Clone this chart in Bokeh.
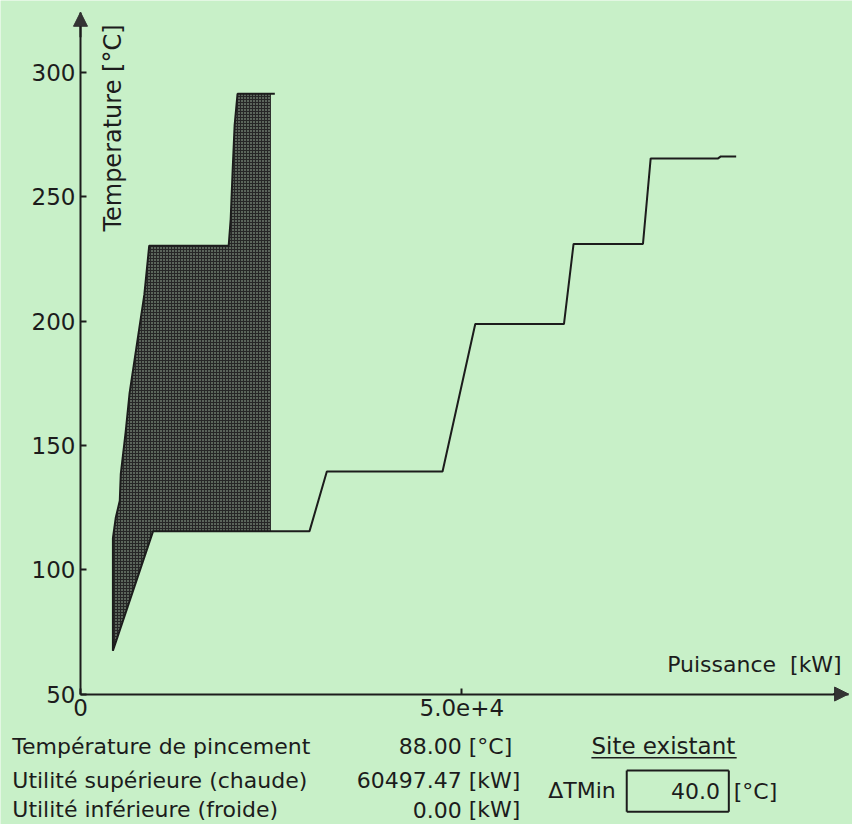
import math
from bokeh.plotting import figure
from bokeh.models import Range1d, FixedTicker, Label, Arrow, NormalHead
from bokeh.embed import file_html
from bokeh.resources import INLINE

# ---------------- data ----------------
# hot side boundary of the shaded zone (kW, degC)
hot_q = [4250, 4250, 4630, 5150, 5280, 5920, 6440, 8370, 9010, 19430, 19690, 19950, 20210, 20590, 25480]
hot_t = [67.4, 112.7, 121.0, 127.7, 138.4, 155.3, 171.1, 210.6, 230.3, 230.3, 240.9, 260.7, 278.8, 291.4, 291.4]
# staircase curve (kW, degC)
cold_q = [4250, 9520, 24970, 30030, 32300, 47470, 51760, 63390, 64650, 73750, 74760, 83600, 83960, 85970]
cold_t = [67.4, 115.5, 115.5, 115.5, 139.5, 139.5, 198.8, 198.8, 231.0, 231.0, 265.4, 265.4, 266.2, 266.2]
shade_right_q = 24970

y_ticks = [50, 100, 150, 200, 250, 300]
x_ticks = [0, 50000]
x_tick_labels = {0: "0", 50000: "5.0e+4"}

info_labels = ["Température de pincement", "Utilité supérieure (chaude)", "Utilité inférieure (froide)"]
info_values = ["88.00", "60497.47", "0.00"]
info_units = ["[°C]", "[kW]", "[kW]"]
site_title = "Site existant"
dtmin_label = "ΔTMin"
dtmin_value = "40.0"
dtmin_unit = "[°C]"

# ---------------- layout ----------------
W, H = 852, 824
REF_W, REF_H = 868, 840
SX, SY = W / REF_W, H / REF_H
AX_X, AX_Y = 81.5, 707.0          # reference pixel position of the axes origin
KW_PER_PX = 50000 / 388.5          # reference pixels
DEG_PER_PX = 50 / 126.75

BG = "#c8f0c8"
INK = "#1c1c1c"
FONT = "DejaVu Sans"
FS = "22px"

x0 = (0 - AX_X) * KW_PER_PX
x1 = (REF_W - AX_X) * KW_PER_PX
y0 = 50 - (REF_H - AX_Y) * DEG_PER_PX
y1 = 50 + AX_Y * DEG_PER_PX

p = figure(width=W, height=H, output_backend="svg", toolbar_location=None,
           x_range=Range1d(x0, x1), y_range=Range1d(y0, y1),
           min_border=0, min_border_left=0, min_border_right=0,
           min_border_top=0, min_border_bottom=0)
p.background_fill_color = BG
p.border_fill_color = BG
p.outline_line_color = None
p.grid.visible = False

y_tip = 50 + (AX_Y - 12) * DEG_PER_PX
x_tip = (864 - AX_X) * KW_PER_PX

p.xaxis.fixed_location = 50
p.yaxis.fixed_location = 0
p.xaxis.bounds = (0, x_tip)
p.yaxis.bounds = (50, y_tip)

for ax in (p.xaxis[0], p.yaxis[0]):
    ax.axis_line_width = 2
    ax.axis_line_color = INK
    ax.major_tick_in = 6
    ax.major_tick_out = 0
    ax.major_tick_line_color = INK
    ax.major_tick_line_width = 2
    ax.minor_tick_line_color = None
    ax.major_label_text_font = FONT
    ax.major_label_text_font_size = "23px"
    ax.major_label_text_color = INK
    ax.major_label_standoff = 5

p.yaxis.ticker = FixedTicker(ticks=y_ticks)
p.xaxis.ticker = FixedTicker(ticks=x_ticks)
p.xaxis.major_label_overrides = x_tick_labels

# shaded zone
patch_q = hot_q[:-1] + [shade_right_q]
patch_t = hot_t[:-1] + [hot_t[-1]]
for q, t in reversed(list(zip(cold_q, cold_t))):
    if q <= shade_right_q:
        patch_q.append(q)
        patch_t.append(t)
p.patch(patch_q, patch_t, fill_color="#262626", line_color=None,
        hatch_pattern="dot", hatch_color="#a9c2a9", hatch_scale=3, hatch_weight=1)

p.line(hot_q, hot_t, line_color=INK, line_width=2)
p.line(cold_q, cold_t, line_color=INK, line_width=2)

# axis arrow heads
p.add_layout(Arrow(end=NormalHead(size=14, fill_color="#333333", line_color="#333333"),
                   x_start=0, y_start=y_tip - 10, x_end=0, y_end=y_tip,
                   line_color=INK, line_width=2))
p.add_layout(Arrow(end=NormalHead(size=14, fill_color="#333333", line_color="#333333"),
                   x_start=x_tip - 2000, y_start=50, x_end=x_tip, y_end=50,
                   line_color=INK, line_width=2))


def S(rx, ry):
    """reference pixel position -> screen units relative to frame bottom-left"""
    return rx * SX, (REF_H - ry) * SY


def lab(text, rx, ry, align="left", angle=0.0, size=FS):
    sx, sy = S(rx, ry)
    p.add_layout(Label(x=sx, y=sy, x_units="screen", y_units="screen", text=text,
                       text_font=FONT, text_font_size=size, text_color=INK,
                       text_align=align, text_baseline="middle", angle=angle))


def seg(rx0, ry0, rx1, ry1, w=1.5):
    sx0, sy0 = S(rx0, ry0)
    sx1, sy1 = S(rx1, ry1)
    p.add_layout(Arrow(end=None, x_start=sx0, y_start=sy0, x_end=sx1, y_end=sy1,
                       start_units="screen", end_units="screen",
                       line_color=INK, line_width=w))


lab("Temperature [°C]", 115, 130, align="center", angle=math.pi / 2, size="24px")
lab("Puissance\u00a0 [kW]", 857, 677, align="right")

rows_y = [760, 795, 825]
for i in range(3):
    lab(info_labels[i], 12, rows_y[i])
    lab(info_values[i], 470, rows_y[i], align="right")
    lab(info_units[i], 477, rows_y[i])

lab(site_title, 602, 760, size="23px")
seg(602, 772, 750, 772)
lab(dtmin_label, 558, 805)
seg(638, 785, 742, 785, 2)
seg(638, 827, 742, 827, 2)
seg(638, 785, 638, 827, 2)
seg(742, 785, 742, 827, 2)
lab(dtmin_value, 733, 806, align="right")
lab(dtmin_unit, 747, 806)

open("out.html", "w").write(file_html(p, INLINE))
